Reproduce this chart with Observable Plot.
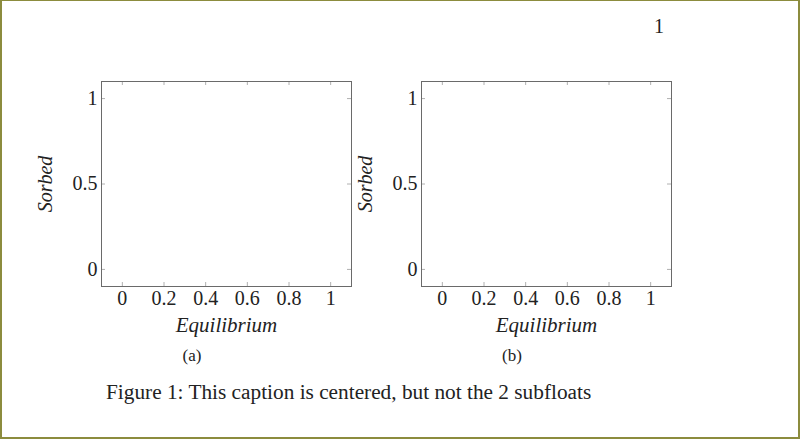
<!DOCTYPE html>
<html>
<head>
<meta charset="utf-8">
<script src="https://cdn.jsdelivr.net/npm/d3@7"></script>
<script src="https://cdn.jsdelivr.net/npm/@observablehq/plot@0.6"></script>
<style>
  html, body { margin: 0; padding: 0; background: #fff; }
  #page { position: relative; width: 800px; height: 439px; overflow: hidden; background: #fff;
          font-family: "Liberation Serif", "DejaVu Serif", serif; color: #222; }
  #border { position: absolute; left: 0; top: 0; width: 800px; height: 439px; box-sizing: border-box;
            border: 2px solid #8c8c3e; border-top-width: 1px; pointer-events: none; }
  .abs { position: absolute; white-space: nowrap; }
  .center { transform: translate(-50%, -50%); }
</style>
</head>
<body>
<div id="page"></div>
<script>
const xTicks = [0, 0.2, 0.4, 0.6, 0.8, 1];
const yTicks = [0, 0.5, 1];
const xDomain = [-0.1, 1.1];
const yDomain = [-0.1, 1.1];
const xLabel = "Equilibrium";
const yLabel = "Sorbed";
const subLabels = ["(a)", "(b)"];
const caption = "Figure 1: This caption is centered, but not the 2 subfloats";
const pageNumber = "1";

const page = document.getElementById("page");

function subplot() {
  const W = 350, H = 290, mL = 81, mR = 19, mT = 21, mB = 64;
  const fw = W - mL - mR, fh = H - mT - mB;
  const tick = 4;
  const fmt = d => String(d);
  return Plot.plot({
    width: W, height: H,
    marginLeft: mL, marginRight: mR, marginTop: mT, marginBottom: mB,
    style: { fontFamily: "Liberation Serif, DejaVu Serif, serif", fontSize: "19px", background: "transparent", overflow: "visible", color: "#222" },
    x: { domain: xDomain, axis: null },
    y: { domain: yDomain, axis: null },
    marks: [
      Plot.tickX(xTicks, { x: d => d, insetTop: fh - tick, stroke: "#b0b0b0" }),
      Plot.tickX(xTicks, { x: d => d, insetBottom: fh - tick, stroke: "#b0b0b0" }),
      Plot.tickY(yTicks, { y: d => d, insetLeft: fw - tick, stroke: "#b0b0b0" }),
      Plot.tickY(yTicks, { y: d => d, insetRight: fw - tick, stroke: "#b0b0b0" }),
      Plot.frame({ stroke: "#6a6a6a", strokeWidth: 1 }),
      Plot.axisX(xTicks, { anchor: "bottom", tickSize: 0, tickPadding: 4, tickFormat: fmt, fontSize: 20, fill: "#222", label: null }),
      Plot.axisY(yTicks, { anchor: "left", tickSize: 0, tickPadding: 4, tickFormat: fmt, fontSize: 20, fill: "#222", label: null }),
      Plot.text([xLabel], { frameAnchor: "bottom", text: d => d, dy: 39, lineAnchor: "middle", textAnchor: "middle", fontStyle: "italic", fontSize: 21, fill: "#222" }),
      Plot.text([yLabel], { frameAnchor: "left", text: d => d, dx: -56, rotate: -90, lineAnchor: "middle", textAnchor: "middle", fontStyle: "italic", fontSize: 20, fill: "#222" })
    ]
  });
}

const lefts = [20, 340];
lefts.forEach((left, i) => {
  const svg = subplot();
  svg.style.position = "absolute";
  svg.style.left = left + "px";
  svg.style.top = "60px";
  page.appendChild(svg);
  const lab = document.createElement("div");
  lab.className = "abs center";
  lab.style.left = (left + 172) + "px";
  lab.style.top = "356px";
  lab.style.fontSize = "17px";
  lab.textContent = subLabels[i];
  page.appendChild(lab);
});

const cap = document.createElement("div");
cap.className = "abs";
cap.style.left = "106px";
cap.style.top = "380px";
cap.style.fontSize = "21.3px";
cap.textContent = caption;
page.appendChild(cap);

const pn = document.createElement("div");
pn.className = "abs center";
pn.style.left = "659px";
pn.style.top = "26px";
pn.style.fontSize = "20px";
pn.textContent = pageNumber;
page.appendChild(pn);

const border = document.createElement("div");
border.id = "border";
page.appendChild(border);
</script>
</body>
</html>
